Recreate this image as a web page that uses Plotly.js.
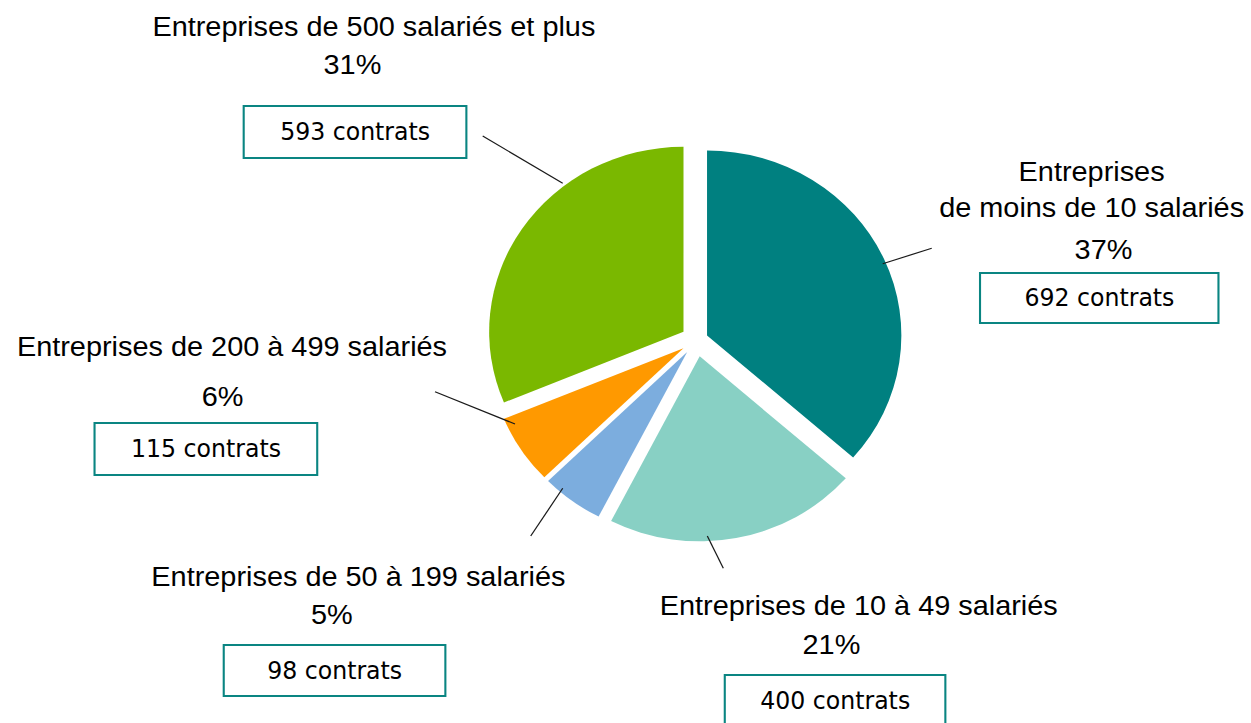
<!DOCTYPE html>
<html>
<head>
<meta charset="utf-8">
<script src="https://cdn.plot.ly/plotly-3.0.1.min.js"></script>
<style>
html,body{margin:0;padding:0;background:#fff;}
#wrap{width:1251px;height:723px;overflow:hidden;position:relative;}
#plot{width:1191px;height:723px;transform:scaleX(1.0504);transform-origin:0 0;}
</style>
</head>
<body>
<div id="wrap"><div id="plot"></div></div>
<script>
// ---- Data ----
const categories = [
  "Entreprises de moins de 10 salariés",
  "Entreprises de 10 à 49 salariés",
  "Entreprises de 50 à 199 salariés",
  "Entreprises de 200 à 499 salariés",
  "Entreprises de 500 salariés et plus"
];
const contrats = [692, 400, 98, 115, 593];
const pourcentages = ["37%", "21%", "5%", "6%", "31%"];
const libelles = [
  "Entreprises<br>de moins de 10 salariés",
  "Entreprises de 10 à 49 salariés",
  "Entreprises de 50 à 199 salariés",
  "Entreprises de 200 à 499 salariés",
  "Entreprises de 500 salariés et plus"
];

// ---- Styles / layout (reference pixel positions) ----
const W = 1251, H = 723, SX = 1.0504;
const PW = Math.round(W / SX);
const colors = ["#008080", "#88d0c4", "#7cadde", "#ff9900", "#7ab800"];
const pulls = [0.06, 0.09, 0.08, 0.08, 0.08];
const labelPos = [[1091.6, 189.3], [858.3, 605], [357.7, 576.7], [232.5, 346], [373.5, 27]];
const pctPos = [[1103, 249.7], [831.7, 644.5], [332, 614], [222.5, 396], [352, 64]];
const boxPos = [[1099.7, 298, 241, 52], [835, 700, 223, 53], [334.5, 670, 224, 53], [206.3, 448.7, 225, 54], [355.2, 132, 225, 54]];
const leaders = [
  [882.7, 263.7, 931.7, 248.3],
  [707.3, 536, 723.3, 568.3],
  [562.7, 488.3, 530.7, 536],
  [515, 424, 435, 391.7],
  [562.7, 183.3, 482.7, 136]
];
// pie geometry in unstretched pixels
const cx = 663, cy = 340, R = 185;
const maxPull = Math.max(...pulls);
const half = R * (1 + maxPull);

const px = x => x / W;
const py = y => 1 - y / H;

const labelFont = {family: "Liberation Sans, Arial, sans-serif", size: 27.5, color: "#000"};
const boxFont = {family: "DejaVu Sans Condensed, sans-serif", size: 25, color: "#000"};

const annotations = [];
const shapes = [];
categories.forEach((c, i) => {
  annotations.push({
    xref: "paper", yref: "paper", x: px(labelPos[i][0]), y: py(labelPos[i][1]),
    xanchor: "center", yanchor: "middle", showarrow: false, align: "center",
    text: libelles[i], font: labelFont
  });
  annotations.push({
    xref: "paper", yref: "paper", x: px(pctPos[i][0]), y: py(pctPos[i][1]),
    xanchor: "center", yanchor: "middle", showarrow: false,
    text: pourcentages[i], font: labelFont
  });
  const b = boxPos[i];
  annotations.push({
    xref: "paper", yref: "paper", x: px(b[0]), y: py(b[1]),
    xanchor: "center", yanchor: "middle", showarrow: false,
    text: contrats[i] + " contrats", font: boxFont,
    width: b[2] / SX - 4, height: b[3] - 4,
    bordercolor: "#0a8582", borderwidth: 2, borderpad: 0, bgcolor: "rgba(255,255,255,0)"
  });
  const l = leaders[i];
  shapes.push({
    type: "line", xref: "paper", yref: "paper",
    x0: px(l[0]), y0: py(l[1]), x1: px(l[2]), y1: py(l[3]),
    line: {color: "#1a1a1a", width: 1.2}
  });
});

const trace = {
  type: "pie",
  labels: categories,
  values: contrats,
  sort: false,
  direction: "clockwise",
  rotation: 0,
  pull: pulls,
  textinfo: "none",
  hoverinfo: "label+value+percent",
  marker: {colors: colors, line: {width: 0}},
  domain: {
    x: [(cx - half) / PW, (cx + half) / PW],
    y: [(H - cy - half) / H, (H - cy + half) / H]
  },
  showlegend: false
};

const layout = {
  width: PW, height: H,
  margin: {l: 0, r: 0, t: 0, b: 0},
  paper_bgcolor: "#ffffff",
  plot_bgcolor: "#ffffff",
  showlegend: false,
  annotations: annotations,
  shapes: shapes
};

Plotly.newPlot("plot", [trace], layout, {displayModeBar: false, staticPlot: true});
</script>
</body>
</html>
